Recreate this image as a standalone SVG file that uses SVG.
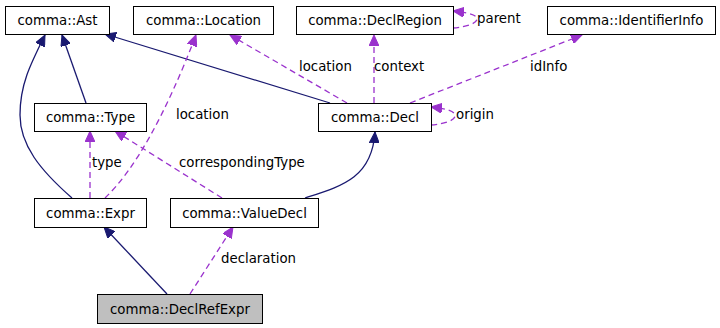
<svg xmlns="http://www.w3.org/2000/svg" width="720" height="328" viewBox="0 0 720 328">
<style>
.n rect{fill:#ffffff;stroke:#000000;stroke-width:1}
.n text{font-family:"DejaVu Sans",sans-serif;font-size:13.33px;text-anchor:middle;fill:#000000}
.lbl{font-family:"DejaVu Sans",sans-serif;font-size:13.33px;fill:#000000}
.inh{fill:none;stroke:#191970;stroke-width:1.3;marker-end:url(#an)}
.use{fill:none;stroke:#9a32cd;stroke-width:1.3;stroke-dasharray:6,4;marker-end:url(#ap)}
</style>
<defs>
<marker id="an" markerUnits="userSpaceOnUse" markerWidth="12" markerHeight="10" refX="11" refY="5" orient="auto">
<path d="M0,0 L11,5 L0,10 z" fill="#191970" stroke="#191970" stroke-width="1"/>
</marker>
<marker id="ap" markerUnits="userSpaceOnUse" markerWidth="12" markerHeight="10" refX="11" refY="5" orient="auto">
<path d="M0,0 L11,5 L0,10 z" fill="#9a32cd" stroke="#9a32cd" stroke-width="1"/>
</marker>
</defs>
<rect x="0" y="0" width="720" height="328" fill="#ffffff"/>
<g id="connectors">
<path class="inh" d="M86,103 L62,35"/>
<path class="inh" d="M72,198 C40,170 20,145 20,115 C20,85 30,65 45,35"/>
<path class="inh" d="M330,103 L105,34"/>
<path class="inh" d="M305,198 C342,186 372,178 375,132"/>
<path class="inh" d="M167,294 L104,227"/>
<path class="use" d="M105,198 Q150,155 196,35"/>
<path class="use" d="M90,198 L90,131"/>
<path class="use" d="M222,198 L115,131"/>
<path class="use" d="M347,103 L230,35"/>
<path class="use" d="M374,103 L374,35"/>
<path class="use" d="M410,103 L582,35"/>
<path class="use" d="M431,125 C445,124 455,120 455,116 C455,111 448,109 431,107"/>
<path class="use" d="M453,28 C467,27 477,23 477,19 C477,15 470,13 453,11"/>
<path class="use" d="M190,294 L233,227"/>
<text class="lbl" x="176" y="119">location</text>
<text class="lbl" x="92" y="167">type</text>
<text class="lbl" x="179" y="167">correspondingType</text>
<text class="lbl" x="299" y="71">location</text>
<text class="lbl" x="374" y="71">context</text>
<text class="lbl" x="530" y="71">idInfo</text>
<text class="lbl" x="456" y="119">origin</text>
<text class="lbl" x="477" y="23">parent</text>
<text class="lbl" x="221" y="263">declaration</text>
</g>
<g id="node-ast" class="n"><rect x="5.5" y="6.5" width="104" height="28"/><text x="57.5" y="25">comma::Ast</text></g>
<g id="node-location" class="n"><rect x="133.5" y="6.5" width="140" height="28"/><text x="203.5" y="25">comma::Location</text></g>
<g id="node-declregion" class="n"><rect x="296.5" y="6.5" width="157" height="28"/><text x="375" y="25">comma::DeclRegion</text></g>
<g id="node-identifierinfo" class="n"><rect x="547.5" y="6.5" width="168" height="28"/><text x="631.5" y="25">comma::IdentifierInfo</text></g>
<g id="node-type" class="n"><rect x="34.5" y="103.5" width="112" height="28"/><text x="90.5" y="122">comma::Type</text></g>
<g id="node-decl" class="n"><rect x="318.5" y="103.5" width="113" height="28"/><text x="375" y="122">comma::Decl</text></g>
<g id="node-expr" class="n"><rect x="34.5" y="198.5" width="112" height="29"/><text x="90.5" y="218">comma::Expr</text></g>
<g id="node-valuedecl" class="n"><rect x="170.5" y="198.5" width="148" height="29"/><text x="244.5" y="218">comma::ValueDecl</text></g>
<g id="node-declrefexpr" class="n"><rect x="97.5" y="294.5" width="165" height="29" style="fill:#bfbfbf"/><text x="180" y="314">comma::DeclRefExpr</text></g>
</svg>
